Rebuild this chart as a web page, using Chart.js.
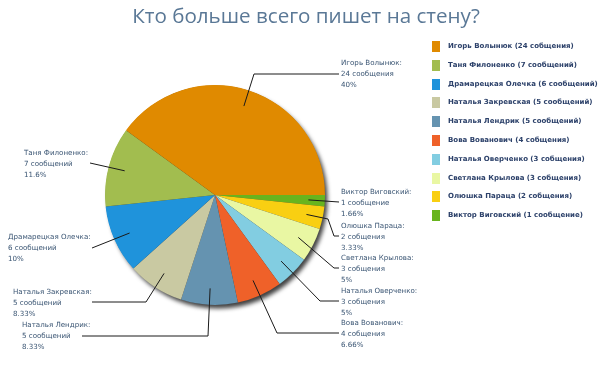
<!DOCTYPE html>
<html>
<head>
<meta charset="utf-8">
<script src="https://cdn.jsdelivr.net/npm/chart.js@4"></script>
<style>
  body { margin:0; background:#fff; }
  #wrap { position:relative; width:604px; height:392px; }
  #title { position:absolute; left:0; width:612px; top:1px; text-align:center;
           font:20.6px "Open Sans", sans-serif; color:#5a7896; margin:0; font-weight:normal; }
  #legend { position:absolute; left:432px; top:41px; }
  .item { height:18.8px; display:flex; align-items:flex-start; }
  .box { width:8px; height:11px; margin-right:8px; flex:none; }
  .lbl { font:bold 7px "DejaVu Sans", sans-serif; color:#2c416a; line-height:11px; white-space:nowrap; }
</style>
</head>
<body>
<div id="wrap">
  <h1 id="title">Кто больше всего пишет на стену?</h1>
  <canvas id="pie" width="604" height="392"></canvas>
  <div id="legend"></div>
</div>
<script>
// данные
const names = ['Игорь Волынюк','Таня Филоненко','Драмарецкая Олечка','Наталья Закревская','Наталья Лендрик',
               'Вова Вованович','Наталья Оверченко','Светлана Крылова','Олюшка Параца','Виктор Виговский'];
const counts = [24, 7, 6, 5, 5, 4, 3, 3, 2, 1];
const countWords = ['24 собщения','7 сообщений','6 сообщений','5 сообщений','5 сообщений',
                    '4 собщения','3 собщения','3 собщения','2 собщения','1 сообщение'];
const labelWords = ['24 сообщения','7 сообщений','6 сообщений','5 сообщений','5 сообщений',
                    '4 собщения','3 собщения','3 собщения','2 собщения','1 сообщение'];
const percents = ['40%','11.6%','10%','8.33%','8.33%','6.66%','5%','5%','3.33%','1.66%'];
const colors = ['#e08a00','#a2bd4f','#1f93db','#c9c9a2','#6593b0',
                '#ef6129','#82cde1','#e9f7a3','#f9cf12','#68b41e'];

// раскладка подписей: x текста, y средней строки, конец выноски, изломы
const callouts = [
  { x:341, y:74,  align:'left',  end:[339,74],  bends:[[254,74]] },
  { x:24,  y:164, align:'left',  end:[90,163],  bends:[] },
  { x:8,   y:248, align:'left',  end:[92,248],  bends:[] },
  { x:13,  y:303, align:'left',  end:[92,302],  bends:[[146,302]] },
  { x:22,  y:336, align:'left',  end:[82,336],  bends:[[208,336]] },
  { x:341, y:334, align:'left',  end:[339,333], bends:[[277,333]] },
  { x:341, y:302, align:'left',  end:[339,301], bends:[[320,301]] },
  { x:341, y:269, align:'left',  end:[339,268], bends:[[334,268]] },
  { x:341, y:237, align:'left',  end:[339,236], bends:[[334,236],[328,219]] },
  { x:341, y:203, align:'left',  end:[339,202], bends:[] }
];

// легенда
const legendEl = document.getElementById('legend');
names.forEach((n, i) => {
  const row = document.createElement('div');
  row.className = 'item';
  row.innerHTML = `<span class="box" style="background:${colors[i]}"></span><span class="lbl">${n} (${countWords[i]})</span>`;
  legendEl.appendChild(row);
});

// тень под кругом
const shadowPlugin = {
  id: 'pieShadow',
  beforeDatasetsDraw(chart){
    const arc = chart.getDatasetMeta(0).data[0];
    if(!arc) return;
    const c = chart.ctx;
    c.save();
    c.shadowColor = 'rgba(0,0,0,0.75)';
    c.shadowBlur = 4;
    c.shadowOffsetX = 3;
    c.shadowOffsetY = 4;
    c.fillStyle = '#333';
    c.beginPath();
    c.arc(arc.x, arc.y, arc.outerRadius - 0.5, 0, Math.PI*2);
    c.fill();
    c.restore();
  }
};

// выноски
const calloutPlugin = {
  id: 'callouts',
  afterDatasetsDraw(chart){
    const c = chart.ctx;
    const meta = chart.getDatasetMeta(0);
    const n = names.length;
    c.save();
    c.font = '7.1px "DejaVu Sans", sans-serif';
    c.textBaseline = 'middle';
    meta.data.forEach((arc, j) => {
      const i = n - 1 - j; // набор перевёрнут
      const L = callouts[i];
      const mid = (arc.startAngle + arc.endAngle) / 2;
      const ax = arc.x + Math.cos(mid) * arc.outerRadius * 0.85;
      const ay = arc.y + Math.sin(mid) * arc.outerRadius * 0.85;
      c.strokeStyle = '#1a1a1a';
      c.lineWidth = 1;
      c.beginPath();
      c.moveTo(ax, ay);
      L.bends.slice().reverse().forEach(p => c.lineTo(p[0], p[1]));
      c.lineTo(L.end[0], L.end[1]);
      c.stroke();
      c.fillStyle = '#3a5573';
      c.textAlign = L.align;
      c.fillText(names[i] + ':', L.x, L.y - 11);
      c.fillText(labelWords[i], L.x, L.y);
      c.fillText(percents[i], L.x, L.y + 11);
    });
    c.restore();
  }
};

new Chart(document.getElementById('pie'), {
  type: 'pie',
  data: {
    labels: names.slice().reverse(),
    datasets: [{
      data: counts.slice().reverse(),
      backgroundColor: colors.slice().reverse(),
      borderWidth: 0,
      hoverOffset: 0
    }]
  },
  options: {
    responsive: false,
    animation: false,
    events: [],
    rotation: 90,
    layout: { padding: { left:105, right:279, top:85, bottom:87 } },
    plugins: { legend: { display:false }, tooltip: { enabled:false }, title: { display:false } }
  },
  plugins: [shadowPlugin, calloutPlugin]
});
</script>
</body>
</html>
